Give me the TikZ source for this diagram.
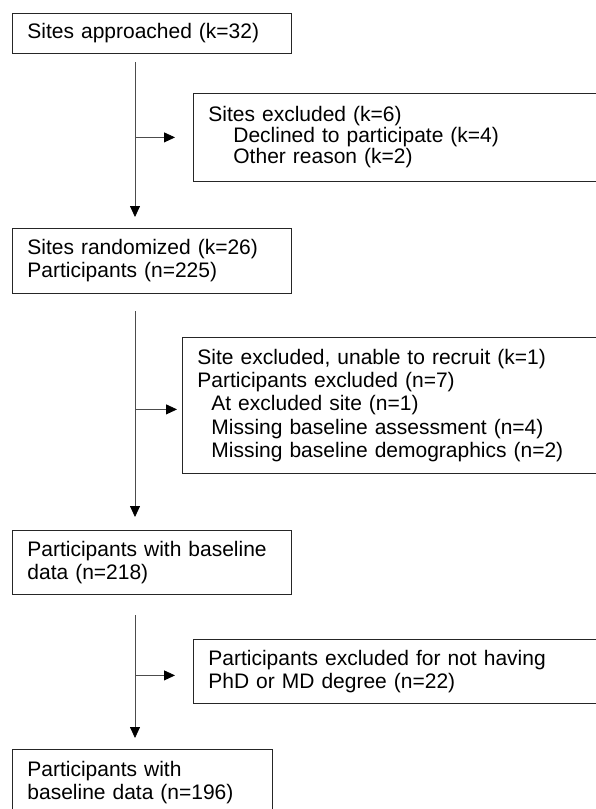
\documentclass[tikz,border=0pt]{standalone}
\usepackage{fontspec}
\setmainfont{Liberation Sans}
\usetikzlibrary{positioning,arrows.meta}

\tikzset{
  box/.style={draw=black!85, line width=0.8pt, anchor=north west, align=left,
    inner xsep=15pt, inner ysep=0pt, font=\fontsize{21}{23.3}\selectfont},
  flow/.style={draw=black!70, line width=0.8pt, -{Triangle[length=11pt,width=10pt,black]}},
}

\begin{document}
\begin{tikzpicture}[x=1pt,y=-1pt]
      \useasboundingbox (0,0) rectangle (595,809);

      \node[box, minimum width=279pt, minimum height=40pt, text width=249pt] (approached) at (12,13) {Sites approached (k=32)};
      \node[box, minimum width=407pt, minimum height=88pt, text width=377pt, font=\fontsize{21}{21}\selectfont] (excl1) at (193,93)
        {Sites excluded (k=6)\\\hspace*{25pt}Declined to participate (k=4)\\\hspace*{25pt}Other reason (k=2)};

      \node[box, minimum width=279pt, minimum height=65pt, text width=249pt] (randomized) at (12,228)
        {Sites randomized (k=26)\\Participants (n=225)};
      \node[box, minimum width=418pt, minimum height=136pt, text width=388pt] (excl2) at (182,337)
        {Site excluded, unable to recruit (k=1)\\Participants excluded (n=7)\\\hspace*{14pt}At excluded site (n=1)\\\hspace*{14pt}Missing baseline assessment (n=4)\\\hspace*{14pt}Missing baseline demographics (n=2)};

      \node[box, minimum width=279pt, minimum height=64pt, text width=249pt] (baseline1) at (12,530)
        {Participants with baseline\\data (n=218)};
      \node[box, minimum width=407pt, minimum height=64pt, text width=377pt] (excl3) at (193,639)
        {Participants excluded for not having\\PhD or MD degree (n=22)};

      \node[box, minimum width=260pt, minimum height=66pt, text width=230pt] (baseline2) at (12,749)
        {Participants with\\baseline data (n=196)};

      % main flow and side branches
      \coordinate (s1) at (135,62);
      \coordinate (s2) at (135,311);
      \coordinate (s3) at (135,615);
      \coordinate (b2) at ([yshift=-4pt]excl2.west);
      \coordinate (b3) at ([yshift=-4pt]excl3.west);

      \draw[flow, shorten >=11pt] (s1) -- (s1 |- randomized.north);
      \draw[flow, shorten >=18pt] (s1 |- excl1.west) -- (excl1.west);

      \draw[flow, shorten >=13pt] (s2) -- (s2 |- baseline1.north);
      \draw[flow, shorten >=5pt] (s2 |- b2) -- (b2);

      \draw[flow, shorten >=11pt] (s3) -- (s3 |- baseline2.north);
      \draw[flow, shorten >=18pt] (s3 |- b3) -- (b3);
    \end{tikzpicture}
\end{document}
